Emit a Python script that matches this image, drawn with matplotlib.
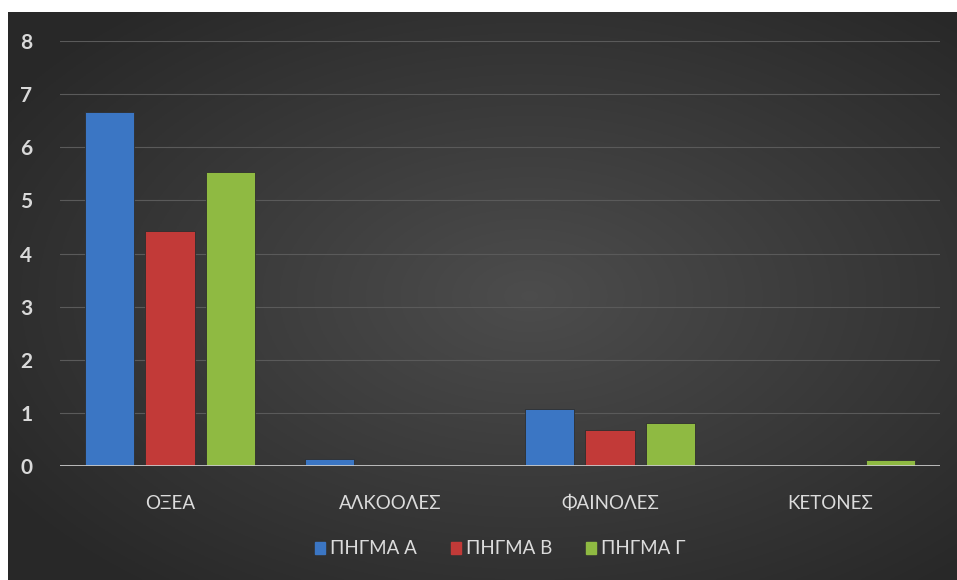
import numpy as np
import matplotlib
matplotlib.use('Agg')
import matplotlib.pyplot as plt
from matplotlib.patches import Patch

plt.rcParams['font.family'] = ['Lato', 'DejaVu Sans']

# Values per compound class for each spring
categories = ['ΟΞΕΑ', 'ΑΛΚΟΟΛΕΣ', 'ΦΑΙΝΟΛΕΣ', 'ΚΕΤΟΝΕΣ']
series_names = ['ΠΗΓΜΑ Α', 'ΠΗΓΜΑ Β', 'ΠΗΓΜΑ Γ']
pigma_a = [6.67, 0.13, 1.07, 0.0]
pigma_b = [4.43, 0.0, 0.68, 0.0]
pigma_g = [5.54, 0.0, 0.81, 0.11]
colors = ['#3b76c4', '#c23a38', '#8fba42']

W, H = 957, 580
fig = plt.figure(figsize=(W / 100, H / 100), dpi=100, facecolor='white')

# dark radial-gradient background panel
bg = fig.add_axes([8 / W, 0, 1 - 8 / W, 1 - 12 / H])
yy, xx = np.mgrid[-1:1:300j, -1:1:500j]
r = np.sqrt((xx - 0.1) ** 2 + yy ** 2)
shade = 0.30 - 0.14 * np.clip(r / 1.3, 0, 1)
bg.imshow(np.dstack([shade] * 3), aspect='auto', extent=[0, 1, 0, 1])
bg.set_axis_off()

ax = fig.add_axes([60 / W, 114 / H, 880 / W, 425 / H])
ax.patch.set_alpha(0)

x = np.arange(len(categories))
width = 0.223
step = 0.277
for i, (vals, name) in enumerate(zip([pigma_a, pigma_b, pigma_g], series_names)):
    ax.bar(x + (i - 1) * step, vals, width, color=colors[i], label=name, zorder=3,
           edgecolor='#2e2e2e', linewidth=0.6)

ax.set_xlim(-0.5, 3.5)
ax.set_ylim(0, 8)
ax.set_yticks(range(0, 9))
ax.yaxis.grid(True, color='#5a5a5a', linewidth=0.8, zorder=0)
ax.axhline(0, color='#c8c8c8', linewidth=2, zorder=4)
for s in ax.spines.values():
    s.set_visible(False)
ax.tick_params(length=0)
ax.set_xticks(x)
ax.set_xticklabels(categories, color='#dcdcdc', fontsize=13.5)
ax.tick_params(axis='x', pad=21)
ax.tick_params(axis='y', pad=20)
for lbl in ax.get_yticklabels():
    lbl.set_color('#d9d9d9')
    lbl.set_fontsize(15)
    lbl.set_fontweight('bold')

handles = [Patch(color=c) for c in colors]
fig.legend(handles, series_names, loc='center', bbox_to_anchor=(500 / W, 1 - 549 / H),
           ncol=3, frameon=False, fontsize=13.5, labelcolor='#dcdcdc',
           handlelength=0.55, handleheight=0.55, handletextpad=0.25, columnspacing=1.8)

fig.savefig('out.png', dpi=100, facecolor=fig.get_facecolor())
